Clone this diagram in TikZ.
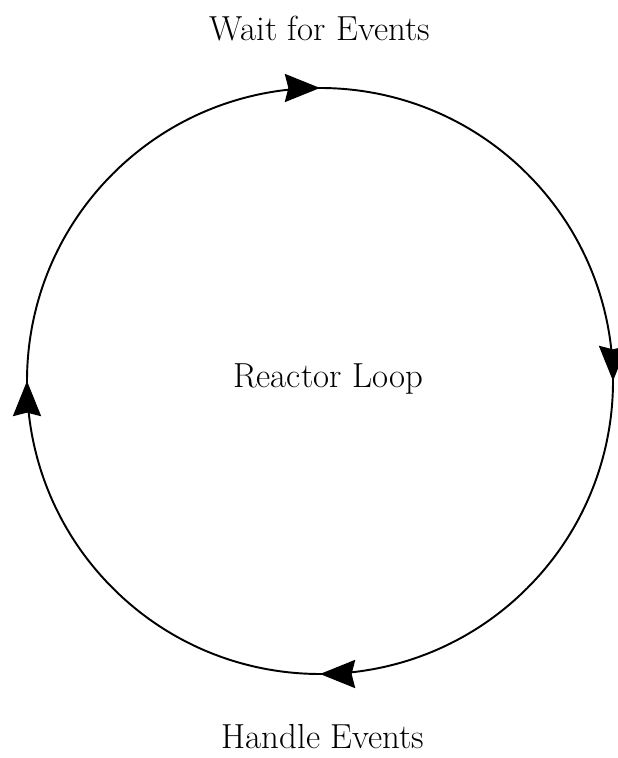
\documentclass[tikz,border=0pt]{standalone}
\usepackage{tikz}
\usetikzlibrary{arrows.meta, positioning, calc, decorations.markings}
\tikzset{
   looptip/.tip={Stealth[length=20pt, width=16pt, inset=2pt]},
   loopline/.style={line width=1.1pt, postaction={decorate},
      decoration={markings,
         mark=at position 0.125 with {\arrow{looptip}},
         mark=at position 0.375 with {\arrow{looptip}},
         mark=at position 0.625 with {\arrow{looptip}},
         mark=at position 0.875 with {\arrow{looptip}}}},
   looplabel/.style={inner sep=0pt, font=\fontsize{19.8}{23}\selectfont}
}
\begin{document}
\begin{tikzpicture}
      % Frame (617 x 758 px at 0.02 cm)
      \useasboundingbox (0,0) rectangle (12.34,15.16);
      % Centre of the loop
      \coordinate (c) at (6.40,7.54);
      % Loop, clockwise from 135 degrees
      \draw[loopline] ($(c)+(135:5.86)$) arc[start angle=135, end angle=-225, radius=5.86];
      % Labels
      \node[looplabel] (wait) at (6.40,14.58) {Wait for Events};
      \node[looplabel] (reactor) at (6.56,7.57) {Reactor Loop};
      \node[looplabel] (handle) at (6.46,0.42) {Handle Events};
\end{tikzpicture}
\end{document}
